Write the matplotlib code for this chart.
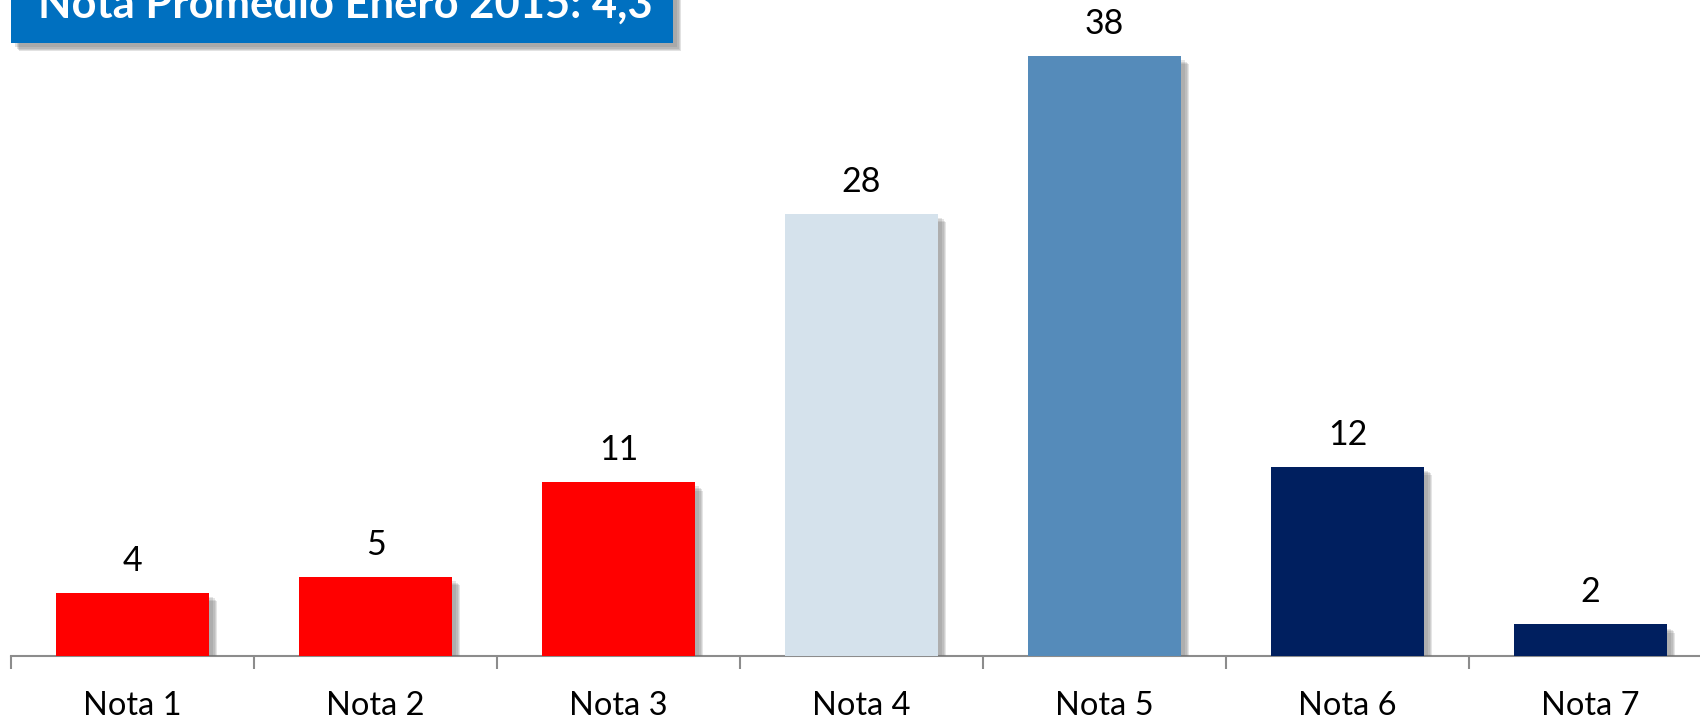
import matplotlib.pyplot as plt
import matplotlib.patheffects as pe
from matplotlib.patches import Rectangle

plt.rcParams['font.family'] = ['Lato', 'DejaVu Sans']

categorias = ['Nota 1', 'Nota 2', 'Nota 3', 'Nota 4', 'Nota 5', 'Nota 6', 'Nota 7']
valores = [4, 5, 11, 28, 38, 12, 2]
colores = ['#FF0000', '#FF0000', '#FF0000', '#D5E2EC', '#558BBA', '#001F5F', '#001F5F']
titulo = 'Nota Promedio Enero 2015: 4,3'

W, H = 1700, 719
fig = plt.figure(figsize=(W / 100, H / 100), dpi=100)
# eje: x de -0.5 a 6.5 ocupa de px 11 a 1712, base en px 656 desde arriba
ax = fig.add_axes([11 / W, (H - 656) / H, 1701 / W, 656 / H])
ax.set_xlim(-0.5, 6.5)
ax.set_ylim(0, 656 / 15.79)

# sombra difusa: varias capas desplazadas con poca opacidad
def sombra_suave(alpha=0.18):
    capas = []
    for d in [6, 5, 4, 3]:
        capas.append(pe.SimplePatchShadow(offset=(d, -d), shadow_rgbFace='#6f6f6f', alpha=alpha))
    capas.append(pe.Normal())
    return capas

x = range(len(categorias))
barras = ax.bar(x, valores, width=0.63, color=colores, zorder=3)
for b in barras:
    b.set_path_effects(sombra_suave())

for xi, v in zip(x, valores):
    ax.annotate(str(v), (xi, v), xytext=(0, 23), textcoords='offset points',
                ha='center', va='center', fontsize=24.5, color='black')

for s in ['top', 'right', 'left']:
    ax.spines[s].set_visible(False)
ax.spines['bottom'].set_color('#8c8c8c')
ax.spines['bottom'].set_linewidth(1.5)
ax.set_yticks([])
ax.set_xticks(list(x))
ax.set_xticklabels(categorias, fontsize=23.5)
ax.tick_params(axis='x', which='major', length=0, pad=25)
ax.set_xticks([i - 0.5 for i in range(len(categorias) + 1)], minor=True)
ax.tick_params(axis='x', which='minor', length=9, width=1.5, color='#8c8c8c', direction='out')

# caja del titulo
caja = Rectangle((11 / W, 1 - 43 / H), 662 / W, 0.2, transform=fig.transFigure,
                 facecolor='#0070C0', edgecolor='none', zorder=5)
caja.set_path_effects(sombra_suave(0.2))
fig.patches.append(caja)
fig.text(38 / W, 1 - 18 / H, titulo, color='white', fontsize=31.3, fontweight='bold',
         ha='left', va='baseline', zorder=6)

fig.savefig('out.png', dpi=100)
